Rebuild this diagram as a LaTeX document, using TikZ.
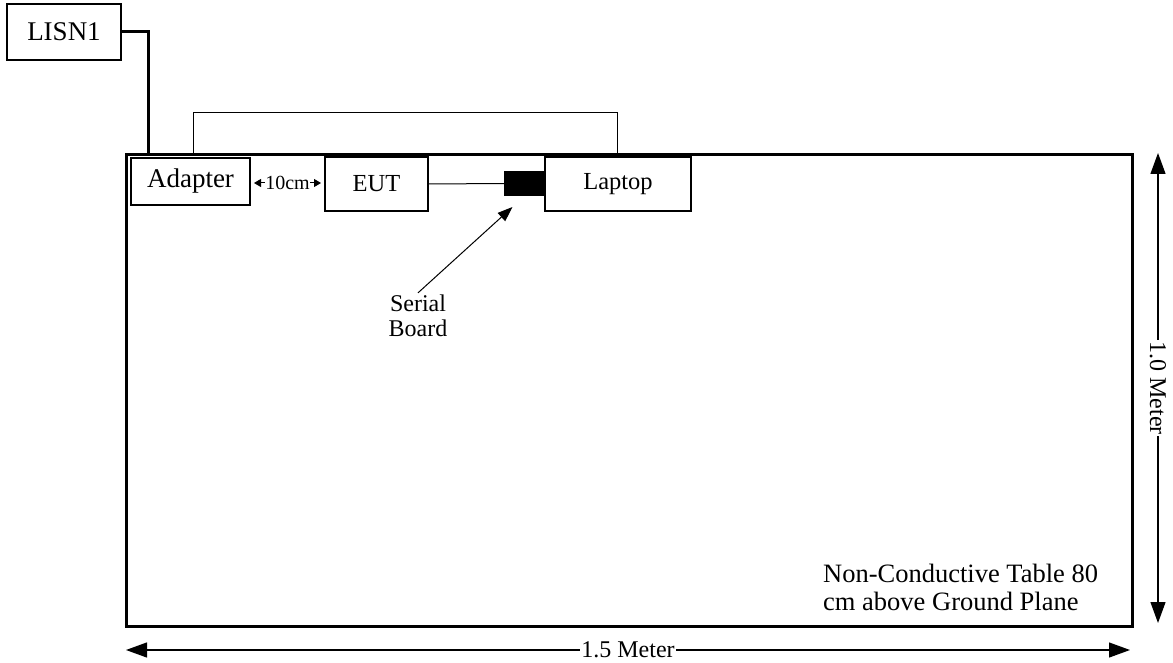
\documentclass[tikz,border=0pt]{standalone}
\usepackage{fontspec}
\setmainfont{Liberation Serif}
\usetikzlibrary{arrows.meta, positioning, calc}

\begin{document}
\begin{tikzpicture}[x=1pt, y=-1pt,
  box/.style={draw, line width=1.3pt, inner sep=0pt, outer sep=0pt, font=\fontsize{24.5}{28}\selectfont},
  dim/.style={line width=1.2pt, {Triangle[length=21pt,width=15pt]}-{Triangle[length=21pt,width=15pt]}},
  lbl/.style={fill=white, inner sep=1pt, font=\fontsize{24}{26}\selectfont}]
  \useasboundingbox (0,0) rectangle (1173,663);

  % the table
  \node[draw, line width=3pt, outer sep=0pt, minimum width=1006pt, minimum height=471pt, anchor=north west] (table) at (126,155) {};

  % equipment on the table
  \node[box, minimum width=114pt, minimum height=56pt, font=\fontsize{27}{30}\selectfont] (lisn) at (64,32) {LISN1};
  \node[box, minimum width=119pt, minimum height=47pt, font=\fontsize{27}{30}\selectfont] (adapter) at (190.5,181.5) {Adapter};
  \node[box, minimum width=103pt, minimum height=54pt] (eut) at (376.5,184) {EUT};
  \node[box, fill=black, minimum width=39pt, minimum height=23pt] (serial) at (524.5,183.5) {};
  \node[box, minimum width=146pt, minimum height=54pt] (laptop) at (618,184) {Laptop};

  % cables
  \draw[line width=3pt] (lisn.east) -| ($(table.north west)+(22,0)$);
  \coordinate (loopL) at ($(table.north west)+(67,0)$);
  \coordinate (loopR) at ($(table.north west)+(491,0)$);
  \draw[line width=1pt] (loopL) -- ++(0,-42) -| (loopR);
  \draw[line width=1pt] (eut.east) -- (serial.west);

  % 10 cm spacing
  \draw[line width=1pt, {Triangle[length=7pt,width=8pt]}-{Triangle[length=7pt,width=8pt]}]
    ($(adapter.east)+(4,1.5)$) -- ($(eut.west)+(-4,-1)$)
    node[midway, fill=white, inner sep=0pt, font=\fontsize{20}{22}\selectfont] {10cm};

  % serial board callout
  \node[align=center, inner sep=2pt, font=\fontsize{24}{25}\selectfont] (sbtxt) at (418,316) {Serial\\Board};
  \draw[line width=1pt, -{Triangle[length=15pt,width=11pt]}] (sbtxt.north) -- ($(serial.south)+(-12,12)$);

  \node[align=left, anchor=west, inner sep=0pt, font=\fontsize{26.5}{28}\selectfont] (note) at (823,587)
    {Non-Conductive Table 80\\cm above Ground Plane};

  % dimensions
  \draw[dim] ($(table.south west)+(0,24)$) -- ($(table.south east)+(-2,24)$) node[midway, lbl] {1.5 Meter};
  \draw[dim] ($(table.north east)+(26,-2)$) -- ($(table.south east)+(26,-3)$) node[midway, lbl, rotate=-90] {1.0 Meter};
\end{tikzpicture}
\end{document}
